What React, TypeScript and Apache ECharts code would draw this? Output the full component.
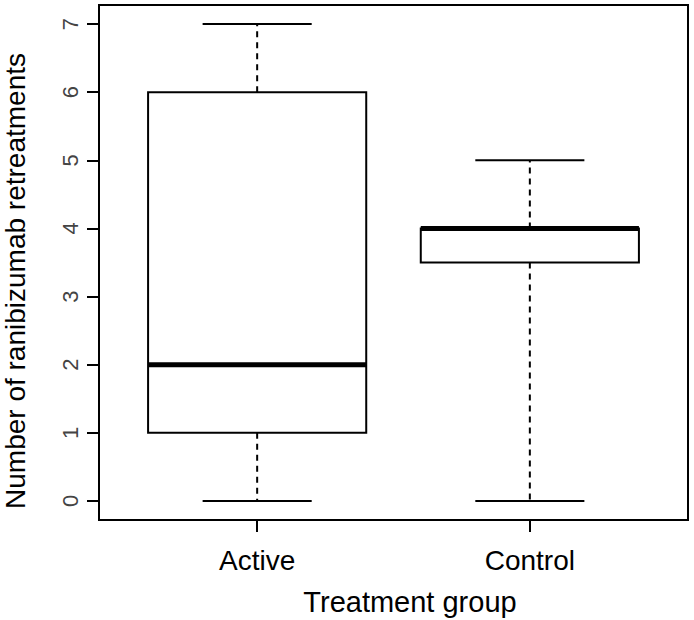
import React, { useEffect, useRef } from "react";
import * as echarts from "echarts";

const categories = ["Active", "Control"];
const categoryPositions = [1, 2];
const minValues = [0, 0];
const q1Values = [1, 3.5];
const medianValues = [2, 4];
const q3Values = [6, 4];
const maxValues = [7, 5];
const yTicks = [0, 1, 2, 3, 4, 5, 6, 7];
const xTitle = "Treatment group";
const yTitle = "Number of ranibizumab retreatments";

const FONT = "'Liberation Sans', Arial, Helvetica, sans-serif";

export default function App() {
  const ref = useRef<HTMLDivElement>(null);

  useEffect(() => {
    if (!ref.current) return;
    const chart = echarts.init(ref.current, null, { renderer: "svg" });

    const data = categories.map((_, i) => [
      categoryPositions[i],
      minValues[i],
      q1Values[i],
      medianValues[i],
      q3Values[i],
      maxValues[i],
    ]);

    const renderItem = (params: any, api: any) => {
      const x = api.value(0);
      const pMin = api.coord([x, api.value(1)]);
      const pQ1 = api.coord([x, api.value(2)]);
      const pMed = api.coord([x, api.value(3)]);
      const pQ3 = api.coord([x, api.value(4)]);
      const pMax = api.coord([x, api.value(5)]);
      const halfW = api.size([0.4, 0])[0];
      const cx = pMin[0];
      const stroke = "#000";
      const dash = [6, 5];
      return {
        type: "group",
        children: [
          {
            type: "line",
            shape: { x1: cx, y1: pQ3[1], x2: cx, y2: pMax[1] },
            style: { stroke, lineWidth: 2, lineDash: dash },
          },
          {
            type: "line",
            shape: { x1: cx, y1: pQ1[1], x2: cx, y2: pMin[1] },
            style: { stroke, lineWidth: 2, lineDash: dash },
          },
          {
            type: "line",
            shape: { x1: cx - halfW / 2, y1: pMax[1], x2: cx + halfW / 2, y2: pMax[1] },
            style: { stroke, lineWidth: 2 },
          },
          {
            type: "line",
            shape: { x1: cx - halfW / 2, y1: pMin[1], x2: cx + halfW / 2, y2: pMin[1] },
            style: { stroke, lineWidth: 2 },
          },
          {
            type: "rect",
            shape: { x: cx - halfW, y: pQ3[1], width: halfW * 2, height: pQ1[1] - pQ3[1] },
            style: { fill: "#fff", stroke, lineWidth: 2 },
          },
          {
            type: "line",
            shape: { x1: cx - halfW, y1: pMed[1], x2: cx + halfW, y2: pMed[1] },
            style: { stroke, lineWidth: 5 },
          },
        ],
      };
    };

    chart.setOption({
      animation: false,
      backgroundColor: "#fff",
      grid: {
        left: 99,
        top: 5,
        right: 6,
        bottom: 100,
        containLabel: false,
        outerBoundsMode: "none",
        show: true,
        borderColor: "#000",
        borderWidth: 2,
        backgroundColor: "transparent",
      },
      graphic: [
        {
          type: "text",
          x: 410,
          y: 602,
          style: {
            text: xTitle,
            fontSize: 29,
            fontFamily: FONT,
            fill: "#000",
            align: "center",
            verticalAlign: "middle",
          },
        },
        {
          type: "text",
          x: 15,
          y: 281,
          rotation: Math.PI / 2,
          style: {
            text: yTitle,
            fontSize: 28,
            fontFamily: FONT,
            fill: "#000",
            align: "center",
            verticalAlign: "middle",
          },
        },
      ],
      xAxis: {
        type: "value",
        min: 0.42,
        max: 2.58,
        axisLine: { show: false, onZero: false },
        splitLine: { show: false },
        axisTick: {
          show: true,
          customValues: categoryPositions,
          length: 12,
          lineStyle: { color: "#000", width: 2 },
        },
        axisLabel: {
          customValues: categoryPositions,
          formatter: (v: number) => categories[Math.round(v) - 1] ?? "",
          fontSize: 28,
          fontFamily: FONT,
          color: "#000",
          margin: 26,
        },
      },
      yAxis: {
        type: "value",
        min: -0.28,
        max: 7.28,
        axisLine: { show: false, onZero: false },
        splitLine: { show: false },
        axisTick: {
          show: true,
          customValues: yTicks,
          length: 12,
          lineStyle: { color: "#000", width: 2 },
        },
        axisLabel: {
          customValues: yTicks,
          rotate: 90,
          fontSize: 22,
          fontFamily: FONT,
          color: "#444",
          margin: 18,
        },
      },
      series: [
        {
          type: "custom",
          renderItem,
          data,
          encode: { x: 0, y: [1, 2, 3, 4, 5] },
          clip: false,
        },
      ],
    });

    return () => chart.dispose();
  }, []);

  return (
    <div
      ref={ref}
      style={{ position: "fixed", left: 0, top: 0, width: 694, height: 620, background: "#fff" }}
    />
  );
}
